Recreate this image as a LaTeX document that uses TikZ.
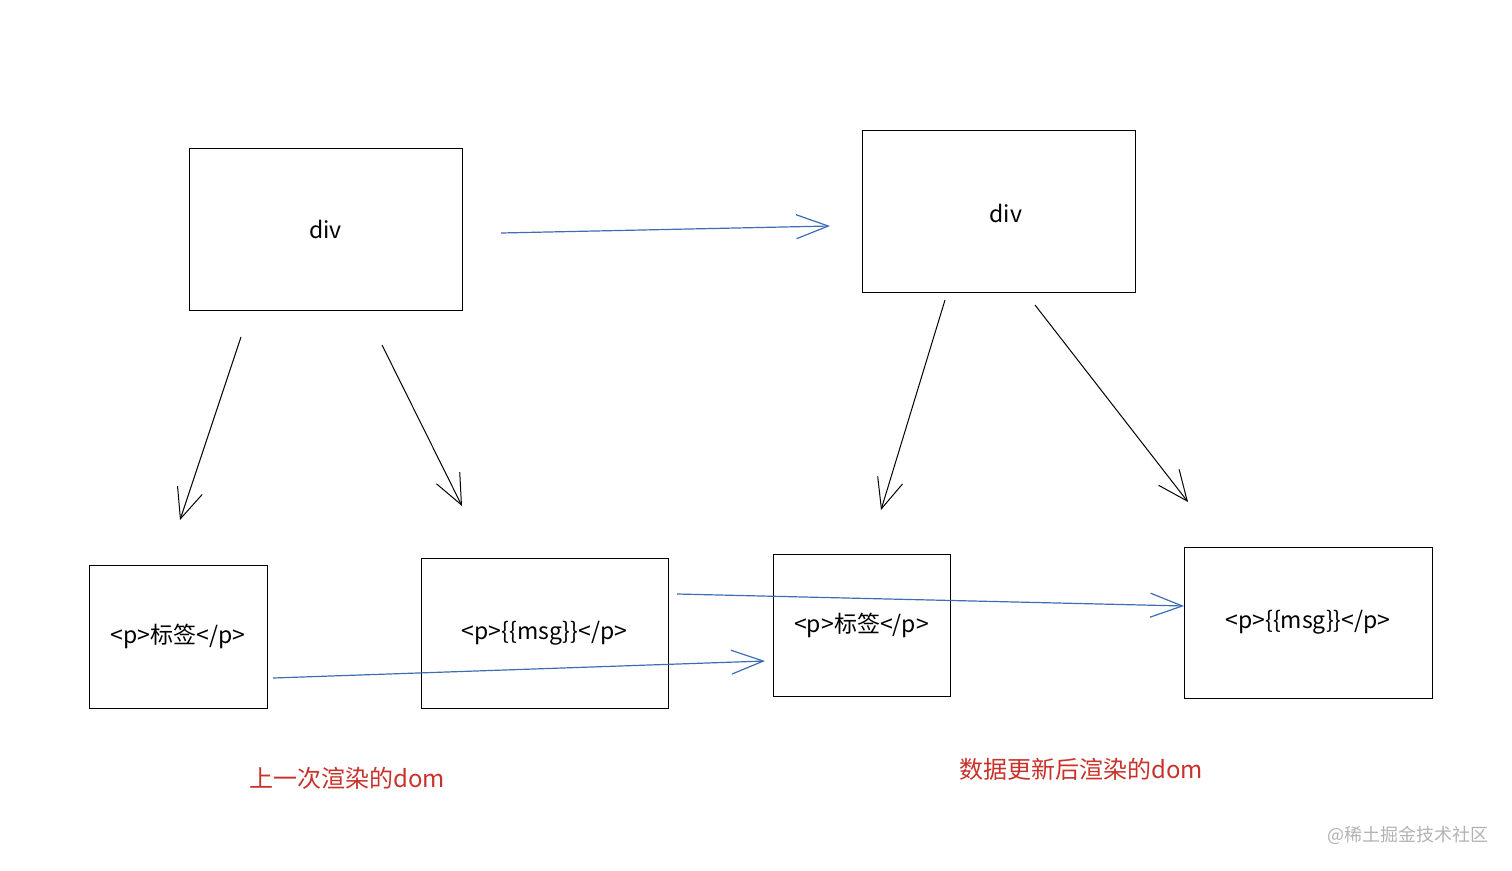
\documentclass[tikz,border=0pt]{standalone}
\usepackage{fontspec}
\setmainfont{Liberation Sans}
\newfontfamily\cjk{Noto Sans CJK SC}
\usetikzlibrary{arrows.meta}
\definecolor{ablue}{HTML}{3D6DB3}
\definecolor{tred}{HTML}{C8322B}
\begin{document}
\begin{tikzpicture}[x=1pt,y=-1pt,
  box/.style={draw,line width=1pt,inner sep=0pt,font=\cjk\fontsize{23}{27}\selectfont},
  blk/.style={draw,line width=1pt,-{Straight Barb[length=30pt,width=26pt,line width=1pt]}},
  blu/.style={draw=ablue,line width=1.2pt,-{Straight Barb[length=32pt,width=24pt,line width=1.2pt]}},
  red/.style={text=tred,font=\cjk\fontsize{24}{28}\selectfont}]
\useasboundingbox (0,0) rectangle (1512,870);
\node[box,minimum width=273pt,minimum height=162pt] (d1) at (325.5,229) {div};
\node[box,minimum width=273pt,minimum height=162pt] (d2) at (998.5,211) {};
\node[font=\cjk\fontsize{23}{27}\selectfont] (d2t) at (1006,213) {div};
\node[box,minimum width=178pt,minimum height=143pt] (p1) at (178,636.5) {<p>标签</p>};
\node[box,minimum width=247pt,minimum height=150pt] (m1) at (544.5,633) {<p>\{\{msg\}\}</p>};
\node[box,minimum width=177pt,minimum height=142pt] (p2) at (861.5,625) {<p>标签</p>};
\node[box,minimum width=248pt,minimum height=151pt] (m2) at (1308,622.5) {<p>\{\{msg\}\}</p>};
\coordinate (a1s) at (241,337); \coordinate (a1e) at (180,520);
\coordinate (a2s) at (382,345); \coordinate (a2e) at (462,506);
\coordinate (a3s) at (945,300); \coordinate (a3e) at (881,510);
\coordinate (a4s) at (1035,305); \coordinate (a4e) at (1188,502);
\coordinate (b1s) at (501,233); \coordinate (b1e) at (830,226);
\coordinate (b2s) at (677,594); \coordinate (b2e) at (1184,606);
\coordinate (b3s) at (273,678); \coordinate (b3e) at (765,661);
\draw[blk] (a1s) -- (a1e);
\draw[blk] (a2s) -- (a2e);
\draw[blk] (a3s) -- (a3e);
\draw[blk] (a4s) -- (a4e);
\draw[blu] (b1s) -- (b1e);
\draw[blu] (b2s) -- (b2e);
\draw[blu] (b3s) -- (b3e);
\node[red] (t1) at (347,778) {上一次渲染的dom};
\node[red] (t2) at (1081,769) {数据更新后渲染的dom};
\node[text=gray!60,font=\cjk\fontsize{18}{20}\selectfont] (wm) at (1408,835) {@稀土掘金技术社区};
\end{tikzpicture}
\end{document}
